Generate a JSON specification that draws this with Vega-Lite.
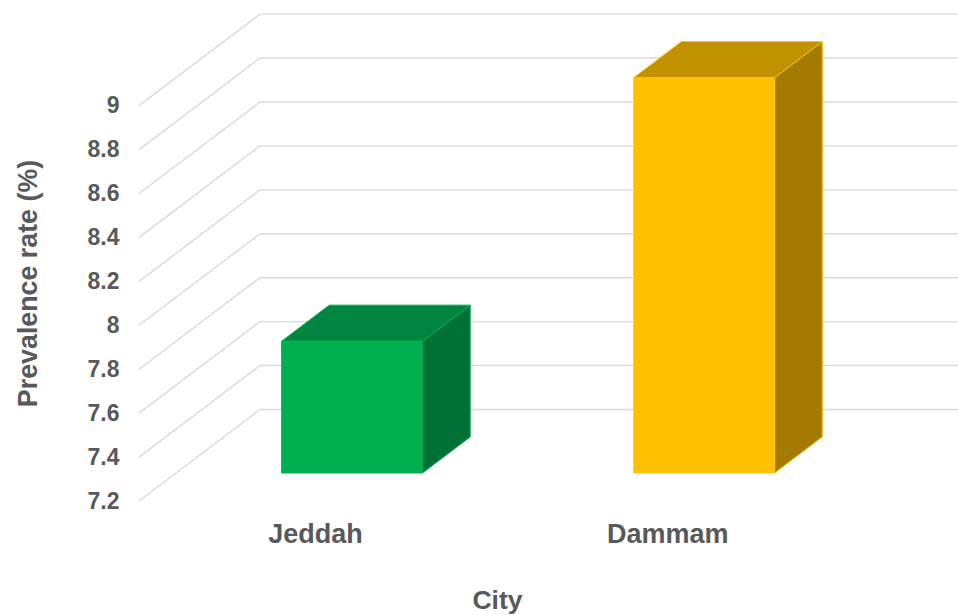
{
  "$schema": "https://vega.github.io/schema/vega-lite/v6.json",
  "width": 819,
  "height": 492,
  "autosize": {"type": "none"},
  "padding": {"left": 139, "top": 9, "right": 0, "bottom": 114},
  "background": "white",
  "config": {"view": {"stroke": null}, "font": "Liberation Sans"},
  "datasets": {
    "bars": [
      {"city": "Jeddah", "value": 7.8},
      {"city": "Dammam", "value": 9.0}
    ],
    "ticks": [
      {"t": 7.2}, {"t": 7.4}, {"t": 7.6}, {"t": 7.8}, {"t": 8},
      {"t": 8.2}, {"t": 8.4}, {"t": 8.6}, {"t": 8.8}, {"t": 9}
    ]
  },
  "resolve": {"scale": {"fill": "independent"}},
  "layer": [
    {
      "data": {"name": "ticks"},
      "transform": [{"calculate": "datum.t + 0.4167", "as": "tb"}],
      "mark": {"type": "rule", "color": "#D9D9D9", "strokeWidth": 1.4},
      "encoding": {
        "x": {
          "datum": 0.5,
          "type": "quantitative",
          "scale": {"domain": [0.5, 2.826], "nice": false, "zero": false},
          "axis": {
            "title": "City",
            "values": [1, 2],
            "labelExpr": "datum.value == 1 ? 'Jeddah' : (datum.value == 2 ? 'Dammam' : '')",
            "grid": false,
            "domain": false,
            "ticks": false,
            "tickSize": 0,
            "labelFont": "Liberation Sans",
            "labelFontSize": 27,
            "labelFontWeight": "bold",
            "labelColor": "#595959",
            "labelBaseline": "alphabetic",
            "labelPadding": 41,
            "labelAlign": "center",
            "titleFont": "Liberation Sans",
            "titleFontSize": 26.5,
            "titleFontWeight": "bold",
            "titleColor": "#595959",
            "titleX": 358,
            "titleY": 107,
            "titleAlign": "center",
            "titleAnchor": null,
            "titleBaseline": "alphabetic"
          }
        },
        "x2": {"datum": 0.8437},
        "y": {
          "field": "t",
          "type": "quantitative",
          "scale": {"domain": [7.2, 9.44], "nice": false, "zero": false},
          "axis": {
            "title": "Prevalence rate (%)",
            "values": [7.2, 7.4, 7.6, 7.8, 8, 8.2, 8.4, 8.6, 8.8, 9],
            "labelExpr": "format(datum.value, '~g')",
            "grid": false,
            "domain": false,
            "ticks": false,
            "tickSize": 0,
            "labelFont": "Liberation Sans",
            "labelFontSize": 23,
            "labelFontWeight": "bold",
            "labelColor": "#595959",
            "labelPadding": 20,
            "titleFont": "Liberation Sans",
            "titleFontSize": 26.8,
            "titleFontWeight": "bold",
            "titleColor": "#595959",
            "titleX": -111,
            "titleY": 274,
            "titleAngle": 270,
            "titleAlign": "center",
            "titleAnchor": null,
            "titleBaseline": "middle"
          }
        },
        "y2": {"field": "tb"}
      }
    },
    {
      "data": {"name": "ticks"},
      "transform": [{"calculate": "datum.t + 0.4167", "as": "tb"}],
      "mark": {"type": "rule", "color": "#D9D9D9", "strokeWidth": 1.4},
      "encoding": {
        "x": {"datum": 0.8437, "type": "quantitative"},
        "x2": {"datum": 2.826},
        "y": {"field": "tb", "type": "quantitative"}
      }
    },
    {
      "data": {"name": "bars"},
      "transform": [
        {"window": [{"op": "row_number", "as": "i"}]},
        {"calculate": "[0.306, 0.7]", "as": "f"},
        {"flatten": ["f"]},
        {"calculate": "datum.i - 0.2 + datum.f * 0.3437", "as": "xs"},
        {"calculate": "datum.i + 0.2 + datum.f * 0.3437", "as": "xe"},
        {"calculate": "datum.value + datum.f * 0.4167", "as": "yt"},
        {"calculate": "7.2 + datum.f * 0.4167", "as": "yb"}
      ],
      "resolve": {"scale": {"fill": "independent"}},
      "layer": [
        {
          "mark": {"type": "area", "orient": "vertical", "strokeWidth": 1},
          "encoding": {
            "x": {"field": "xe", "type": "quantitative"},
            "y": {"field": "yt", "type": "quantitative"},
            "y2": {"field": "yb"},
            "fill": {"field": "city", "type": "nominal", "legend": null,
              "scale": {"domain": ["Jeddah", "Dammam"], "range": ["#007135", "#A47B00"]}},
            "stroke": {"field": "city", "type": "nominal", "legend": null,
              "scale": {"domain": ["Jeddah", "Dammam"], "range": ["#00B050", "#FFC000"]}}
          }
        },
        {
          "mark": {"type": "area", "orient": "horizontal", "strokeWidth": 1},
          "encoding": {
            "y": {"field": "yt", "type": "quantitative"},
            "x": {"field": "xs", "type": "quantitative"},
            "x2": {"field": "xe"},
            "fill": {"field": "city", "type": "nominal", "legend": null,
              "scale": {"domain": ["Jeddah", "Dammam"], "range": ["#008540", "#C09100"]}},
            "stroke": {"field": "city", "type": "nominal", "legend": null,
              "scale": {"domain": ["Jeddah", "Dammam"], "range": ["#00B050", "#FFC000"]}}
          }
        },
        {
          "transform": [{"filter": "datum.f < 0.5"}],
          "mark": {"type": "rect", "strokeWidth": 1},
          "encoding": {
            "x": {"field": "xs", "type": "quantitative"},
            "x2": {"field": "xe"},
            "y": {"field": "yt", "type": "quantitative"},
            "y2": {"field": "yb"},
            "fill": {"field": "city", "type": "nominal", "legend": null,
              "scale": {"domain": ["Jeddah", "Dammam"], "range": ["#00B050", "#FFC000"]}},
            "stroke": {"field": "city", "type": "nominal", "legend": null,
              "scale": {"domain": ["Jeddah", "Dammam"], "range": ["#00B050", "#FFC000"]}}
          }
        }
      ]
    }
  ]
}
